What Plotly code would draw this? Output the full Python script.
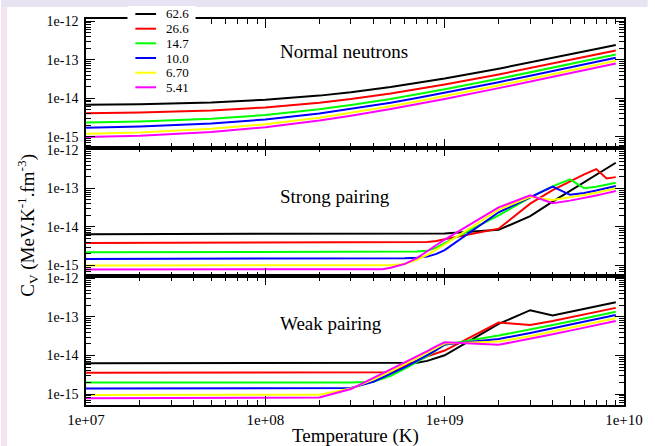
import plotly.graph_objects as go
from plotly.subplots import make_subplots

# ---------------- data ----------------
labels = ["62.6", "26.6", "14.7", "10.0", "6.70", "5.41"]
colors = ["#000000", "#ff0000", "#00ff00", "#0000ff", "#ffff00", "#ff00ff"]

# Normal neutrons
T_normal = [1e7, 2e7, 5e7, 1e8, 2e8, 3e8, 5e8, 7e8, 1e9, 2e9, 3e9, 5e9, 7e9, 9e9]
n_626 = [6.76e-15, 7.0e-15, 7.8e-15, 9.1e-15, 1.17e-14, 1.43e-14, 1.95e-14, 2.46e-14, 3.24e-14, 5.83e-14, 8.4e-14, 1.36e-13, 1.88e-13, 2.4e-13]
n_266 = [4.09e-15, 4.27e-15, 4.84e-15, 5.77e-15, 7.64e-15, 9.5e-15, 1.33e-14, 1.7e-14, 2.26e-14, 4.13e-14, 6.0e-14, 9.74e-14, 1.35e-13, 1.72e-13]
n_147 = [2.35e-15, 2.5e-15, 2.94e-15, 3.69e-15, 5.17e-15, 6.66e-15, 9.6e-15, 1.26e-14, 1.71e-14, 3.19e-14, 4.68e-14, 7.66e-14, 1.06e-13, 1.36e-13]
n_100 = [1.72e-15, 1.85e-15, 2.21e-15, 2.83e-15, 4.05e-15, 5.28e-15, 7.7e-15, 1.02e-14, 1.39e-14, 2.61e-14, 3.84e-14, 6.3e-14, 8.75e-14, 1.12e-13]
n_670 = [1.2e-15, 1.3e-15, 1.61e-15, 2.12e-15, 3.14e-15, 4.16e-15, 6.2e-15, 8.25e-15, 1.13e-14, 2.15e-14, 3.17e-14, 5.2e-14, 7.26e-14, 9.3e-14]
n_541 = [9.9e-16, 1.07e-15, 1.33e-15, 1.77e-15, 2.64e-15, 3.5e-15, 5.24e-15, 6.98e-15, 9.6e-15, 1.83e-14, 2.69e-14, 4.43e-14, 6.17e-14, 7.9e-14]

# Strong pairing
T_strong = [1e7, 1e8, 4.5e8, 5e8, 6e8, 7e8, 8e8, 9e8, 1e9, 2e9, 3e9, 4e9, 5e9, 6e9, 7e9, 8e9, 9e9]
s_626 = [6.5e-15, 6.55e-15, 6.6e-15, 6.6e-15, 6.62e-15, 6.65e-15, 6.67e-15, 6.7e-15, 6.8e-15, 8.4e-15, 1.9e-14, 4.5e-14, 8.6e-14, 1.45e-13, 2.2e-13, 3.25e-13, 4.6e-13]
s_266 = [3.85e-15, 3.9e-15, 3.95e-15, 3.95e-15, 3.97e-15, 4.0e-15, 4.05e-15, 4.3e-15, 4.8e-15, 9.0e-15, 4.0e-14, 9.0e-14, 1.55e-13, 2.3e-13, 3.15e-13, 1.8e-13, 1.95e-13]
s_147 = [2.2e-15, 2.2e-15, 2.22e-15, 2.22e-15, 2.25e-15, 2.3e-15, 2.4e-15, 2.9e-15, 3.8e-15, 2.0e-14, 5.8e-14, 1.12e-13, 1.7e-13, 1.0e-13, 1.1e-13, 1.24e-13, 1.4e-13]
s_100 = [1.48e-15, 1.5e-15, 1.52e-15, 1.52e-15, 1.55e-15, 1.6e-15, 1.7e-15, 2.0e-15, 2.5e-15, 2.4e-14, 5.7e-14, 1.1e-13, 6.8e-14, 7.6e-14, 8.8e-14, 1.0e-13, 1.15e-13]
s_670 = [1.0e-15, 1.0e-15, 1.0e-15, 1.02e-15, 1.1e-15, 1.4e-15, 1.9e-15, 2.6e-15, 3.5e-15, 2.8e-14, 6.0e-14, 5.0e-14, 5.8e-14, 6.7e-14, 7.7e-14, 8.8e-14, 1.0e-13]
s_541 = [7.9e-16, 7.9e-16, 8.0e-16, 8.8e-16, 1.1e-15, 1.55e-15, 2.4e-15, 3.4e-15, 4.7e-15, 3.2e-14, 6.6e-14, 4.1e-14, 4.8e-14, 5.6e-14, 6.5e-14, 7.5e-14, 8.5e-14]

# Weak pairing
T_weak = [1e7, 1e8, 2e8, 3e8, 4e8, 5e8, 6e8, 7e8, 8e8, 9e8, 1e9, 2e9, 3e9, 4e9, 5e9, 6e9, 7e9, 8e9, 9e9]
w_626 = [6.3e-15, 6.3e-15, 6.3e-15, 6.32e-15, 6.33e-15, 6.35e-15, 6.4e-15, 6.5e-15, 7.3e-15, 8.6e-15, 1.02e-14, 6.6e-14, 1.5e-13, 1.1e-13, 1.36e-13, 1.62e-13, 1.88e-13, 2.14e-13, 2.4e-13]
w_266 = [3.6e-15, 3.6e-15, 3.62e-15, 3.63e-15, 3.65e-15, 3.7e-15, 5.4e-15, 7.4e-15, 9.6e-15, 1.15e-14, 1.35e-14, 7.2e-14, 6.2e-14, 7.87e-14, 9.74e-14, 1.16e-13, 1.35e-13, 1.54e-13, 1.72e-13]
w_147 = [2.0e-15, 2.0e-15, 2.0e-15, 2.02e-15, 2.1e-15, 3.0e-15, 4.6e-15, 6.8e-15, 9.7e-15, 1.4e-14, 1.9e-14, 3.3e-14, 4.68e-14, 6.17e-14, 7.66e-14, 9.14e-14, 1.06e-13, 1.21e-13, 1.36e-13]
w_100 = [1.4e-15, 1.4e-15, 1.42e-15, 1.45e-15, 2.1e-15, 3.3e-15, 5.0e-15, 7.3e-15, 1.02e-14, 1.4e-14, 1.95e-14, 2.7e-14, 3.84e-14, 5.07e-14, 6.3e-14, 7.52e-14, 8.75e-14, 9.98e-14, 1.12e-13]
w_670 = [9.5e-16, 9.5e-16, 9.7e-16, 1.4e-15, 2.4e-15, 3.9e-15, 5.9e-15, 8.6e-15, 1.2e-14, 1.6e-14, 2.05e-14, 2.3e-14, 3.17e-14, 4.19e-14, 5.2e-14, 6.24e-14, 7.26e-14, 8.28e-14, 9.3e-14]
w_541 = [7.9e-16, 7.9e-16, 8.2e-16, 1.36e-15, 2.6e-15, 4.3e-15, 6.5e-15, 9.5e-15, 1.3e-14, 1.75e-14, 2.2e-14, 1.9e-14, 2.69e-14, 3.56e-14, 4.43e-14, 5.3e-14, 6.17e-14, 7.03e-14, 7.9e-14]

panel_titles = ["Normal neutrons", "Strong pairing", "Weak pairing"]
x_tick_vals = [1e7, 1e8, 1e9, 1e10]
x_tick_text = ["1e+07", "1e+08", "1e+09", "1e+10"]
y_tick_vals = [1e-15, 1e-14, 1e-13, 1e-12]
y_tick_text = ["1e-15", "1e-14", "1e-13", "1e-12"]

panels = [
    (T_normal, [n_626, n_266, n_147, n_100, n_670, n_541]),
    (T_strong, [s_626, s_266, s_147, s_100, s_670, s_541]),
    (T_weak, [w_626, w_266, w_147, w_100, w_670, w_541]),
]

# ---------------- figure ----------------
W, H = 655, 446
L, R, TOP, BOT = 86, 24, 19, 41
PW, PH = W - L - R, H - TOP - BOT
FONT = "Liberation Serif, Times New Roman, serif"


def px_x(px):
    return (px - L) / PW


def px_y(py):
    return (H - BOT - py) / PH


fig = make_subplots(rows=3, cols=1, shared_xaxes=True, vertical_spacing=0)

for r, (T, series) in enumerate(panels, start=1):
    for lab, col, vals in zip(labels, colors, series):
        fig.add_trace(
            go.Scatter(x=T, y=vals, mode="lines", name=lab,
                       line=dict(color=col, width=2), showlegend=False),
            row=r, col=1)

x_minor = [m * 10 ** e for e in (7, 8, 9) for m in range(2, 10)]
y_minor = [m * 10.0 ** e for e in (-16, -15, -14, -13) for m in range(2, 10)]

for r in (1, 2, 3):
    fig.update_xaxes(
        type="log", range=[7, 10], showline=True, linecolor="black", linewidth=1.5,
        mirror="ticks", ticks="inside", ticklen=9, tickwidth=1, tickcolor="black",
        tickmode="array", tickvals=x_tick_vals, ticktext=x_tick_text,
        showticklabels=(r == 3), showgrid=False, zeroline=False,
        tickfont=dict(family=FONT, size=15, color="black"),
        minor=dict(ticks="inside", ticklen=5, tickwidth=1, tickcolor="black",
                   tickmode="array", tickvals=x_minor, showgrid=False),
        row=r, col=1)
    fig.update_yaxes(
        type="log", range=[-15.28, -11.947], showline=True, linecolor="black", linewidth=1.5,
        mirror="ticks", ticks="inside", ticklen=9, tickwidth=1, tickcolor="black",
        tickmode="array", tickvals=y_tick_vals, ticktext=y_tick_text,
        ticklabelstandoff=3,
        showgrid=False, zeroline=False,
        tickfont=dict(family=FONT, size=14, color="black"),
        minor=dict(ticks="inside", ticklen=5, tickwidth=1, tickcolor="black",
                   tickmode="array", tickvals=y_minor, showgrid=False),
        row=r, col=1)

shapes = [
    # screenshot border bands
    dict(type="rect", xref="paper", yref="paper", x0=px_x(0), x1=px_x(W), y0=px_y(7), y1=px_y(0),
         fillcolor="#e8e3f3", line=dict(width=0), layer="below"),
    dict(type="rect", xref="paper", yref="paper", x0=px_x(0), x1=px_x(6), y0=px_y(H), y1=px_y(7),
         fillcolor="#f3e5ef", line=dict(width=0), layer="below"),
    # legend box
    dict(type="rect", xref="paper", yref="paper", x0=px_x(128), x1=px_x(197), y0=px_y(96), y1=px_y(6),
         fillcolor="white", line=dict(width=0), layer="above"),
]

annotations = []
legend_rows = [14, 28.7, 43.3, 58, 72.7, 87.3]
for lab, col, py in zip(labels, colors, legend_rows):
    shapes.append(dict(type="line", xref="paper", yref="paper", x0=px_x(136), x1=px_x(157),
                       y0=px_y(py), y1=px_y(py), line=dict(color=col, width=2), layer="above"))
    annotations.append(dict(text=lab, xref="paper", yref="paper", x=px_x(165), y=px_y(py),
                            xanchor="left", yanchor="middle", showarrow=False,
                            font=dict(family=FONT, size=13, color="black")))

for title, (px, py) in zip(panel_titles, [(280, 52), (280, 196), (280, 323)]):
    annotations.append(dict(text=title, xref="paper", yref="paper", x=px_x(px), y=px_y(py),
                            xanchor="left", yanchor="middle", showarrow=False,
                            font=dict(family=FONT, size=19, color="black")))

annotations.append(dict(text="Temperature (K)", xref="paper", yref="paper",
                        x=px_x((L + W - R) / 2), y=px_y(436), xanchor="center", yanchor="middle",
                        showarrow=False, font=dict(family=FONT, size=19, color="black")))
annotations.append(dict(text="C<sub>V</sub> (MeV.K<sup>-1</sup>.fm<sup>-3</sup>)",
                        xref="paper", yref="paper", x=px_x(26), y=px_y(225), textangle=-90,
                        xanchor="center", yanchor="middle", showarrow=False,
                        font=dict(family=FONT, size=19, color="black")))

fig.update_layout(
    width=W, height=H, margin=dict(l=L, r=R, t=TOP, b=BOT),
    paper_bgcolor="white", plot_bgcolor="white",
    showlegend=False, shapes=shapes, annotations=annotations,
)

fig.write_html("out.html")
